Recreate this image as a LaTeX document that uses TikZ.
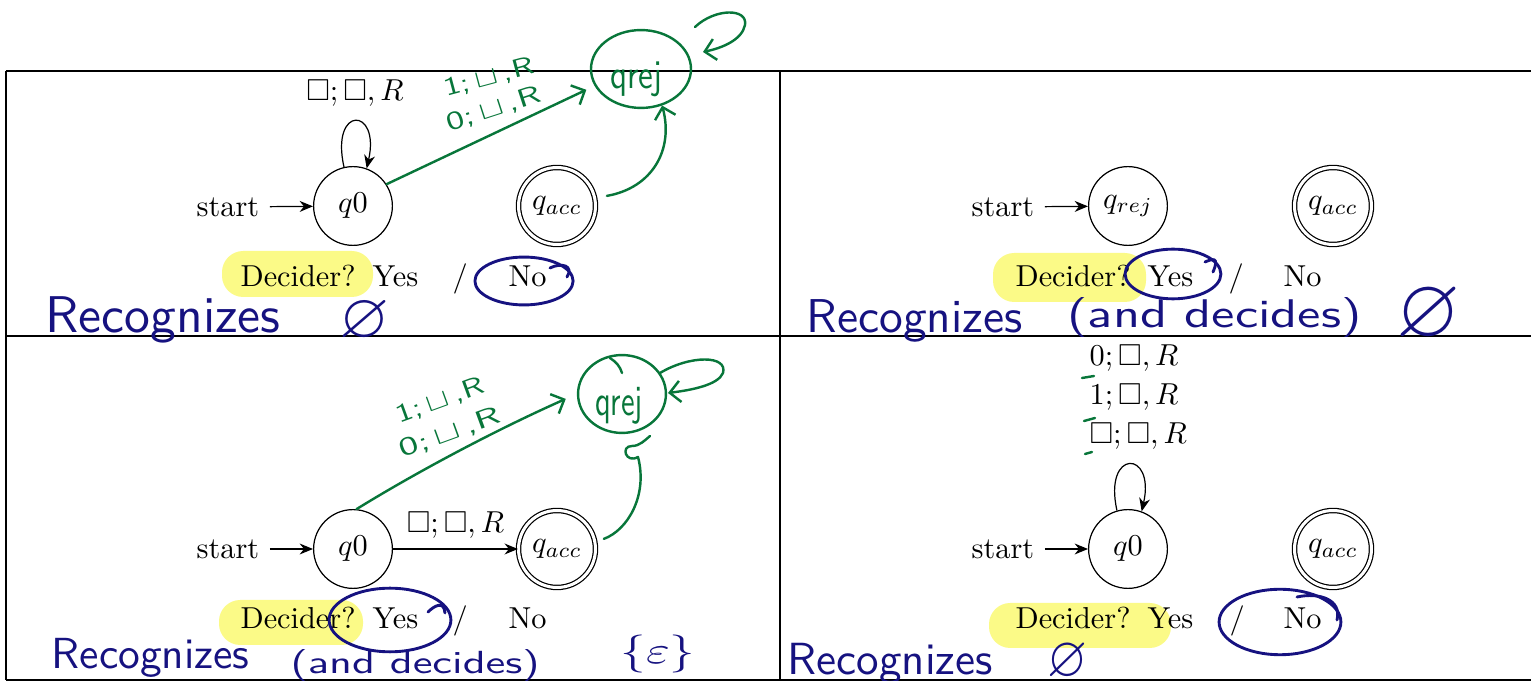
\documentclass[tikz,border=0pt]{standalone}
\usepackage{amssymb}
\usepackage{graphicx}
\usetikzlibrary{arrows.meta,shapes.geometric}
\definecolor{hgreen}{RGB}{8,118,58}
\definecolor{hnavy}{RGB}{22,18,128}
\definecolor{hyellow}{RGB}{251,250,135}
\newdimen\pxu \pxu=0.33pt
\newcommand{\hwbox}[3]{\resizebox*{#1\pxu}{#2\pxu}{\sffamily #3}}
\newcommand{\hww}[2]{\resizebox{#1\pxu}{!}{\sffamily #2}}
\begin{document}
\begin{tikzpicture}[x=0.33pt,y=-0.33pt,
  state/.style={circle,draw,minimum size=26pt,inner sep=0pt},
  acc/.style={circle,draw,double,double distance=1pt,minimum size=25.4pt,inner sep=0pt},
  tr/.style={-{Stealth[length=4.4pt,width=3.6pt]}},
  word/.style={anchor=base west,inner sep=0pt},
  hand/.style={inner sep=0pt},
  handb/.style={anchor=base west,inner sep=0pt,text=hnavy},
  gline/.style={draw=hgreen,line width=0.8pt,line cap=round,line join=round},
  gtip/.style={-{Straight Barb[length=3.5pt,width=7pt]}},
  nline/.style={draw=hnavy,line width=0.95pt,line cap=round,line join=round},
  hl/.style={fill=hyellow,rounded corners=7pt},
  lbl/.style={anchor=west,inner sep=0pt}]
\useasboundingbox (0,0) rectangle (1531,681);
% table
\draw (6,71) -- (1531,71);
\draw (6,336) -- (1531,336);
\draw (6,680) -- (1531,680);
\draw (6,71) -- (6,680);
\draw (780,71) -- (780,680);
% highlighter
\fill[hl] (222,251) rectangle (373,297);
\fill[hl] (993,253) rectangle (1146,302);
\fill[hl] (219,600) rectangle (363,645);
\fill[hl] (989,603) rectangle (1171,648);
% ---------- cell 1
\node (st1) at (228,207) {start};
\node[state] (q1) at (353,206) {$q0$};
\node[acc] (a1) at (557,206) {$q_{acc}$};
\draw[tr] (st1) -- (q1);
\draw[tr] (q1.103) .. controls +(-14,-62) and +(14,-62) .. (q1.70);
\node (l1) at (355,93) {$\square;\square,R$};
\node[word] (d1) at (240,287) {Decider?};
\node[word] (y1) at (372,287) {Yes};
\node[word] (s1) at (452,287) {/};
\node[word] (n1) at (508,287) {No};
% ---------- cell 2
\node (st2) at (1003,207) {start};
\node[state] (q2) at (1128,206) {$q_{rej}$};
\node[acc] (a2) at (1333,206) {$q_{acc}$};
\draw[tr] (st2) -- (q2);
\node[word] (d2) at (1015,287) {Decider?};
\node[word] (y2) at (1147,287) {Yes};
\node[word] (s2) at (1228,287) {/};
\node[word] (n2) at (1283,287) {No};
% ---------- cell 3
\node (st3) at (228,549) {start};
\node[state] (q3) at (353,549) {$q0$};
\node[acc] (a3) at (557,549) {$q_{acc}$};
\draw[tr] (st3) -- (q3);
\draw[tr] (q3) -- node[above] {$\square;\square,R$} (a3);
\node[word] (d3) at (240,629) {Decider?};
\node[word] (y3) at (372,629) {Yes};
\node[word] (s3) at (452,629) {/};
\node[word] (n3) at (508,629) {No};
% ---------- cell 4
\node (st4) at (1003,549) {start};
\node[state] (q4) at (1128,549) {$q0$};
\node[acc] (a4) at (1333,549) {$q_{acc}$};
\draw[tr] (st4) -- (q4);
\draw[tr] (q4.106) .. controls +(-14,-62) and +(14,-62) .. (q4.70);
\node[lbl] (m1) at (1089,358) {$0;\square,R$};
\node[lbl] (m2) at (1089,397) {$1;\square,R$};
\node[lbl] (m3) at (1089,436) {$\square;\square,R$};
\node[word] (d4) at (1015,629) {Decider?};
\node[word] (y4) at (1147,629) {Yes};
\node[word] (s4) at (1229,629) {/};
\node[word] (n4) at (1283,629) {No};
% ---------- navy annotations
\draw[nline] (524,281) ellipse [x radius=16.2pt, y radius=7.9pt];
\draw[nline] (550,268) .. controls (562,262) and (574,266) .. (567,277);
\draw[nline] (1173,274) ellipse [x radius=15.8pt, y radius=8.2pt];
\draw[nline] (1205,262) .. controls (1212,259) and (1220,256) .. (1213,272);
\draw[nline] (390,620) ellipse [x radius=20.1pt, y radius=10.5pt];
\draw[nline] (428,612) .. controls (434,606) and (444,600) .. (445,613);
\draw[nline] (1280,622) ellipse [x radius=20.1pt, y radius=10.8pt];
\draw[nline] (1297,597) .. controls (1320,592) and (1342,600) .. (1337,620);
\node[handb] (rc1) at (45,333) {\hww{235}{Recognizes}};
\node[hand,text=hnavy] (e1) at (365,322) {\hwbox{50}{42}{$\varnothing$}};
\node[handb] (rc2) at (806,333) {\hww{216}{Recognizes}};
\node[handb] (ad2) at (1067,328) {\hwbox{294}{40}{(and decides)}};
\node[hand,text=hnavy] (e2) at (1428,315) {\hwbox{64}{56}{$\varnothing$}};
\node[handb] (rc3) at (51,669) {\hww{198}{Recognizes}};
\node[handb] (ad3) at (290,674) {\hwbox{249}{32}{(and decides)}};
\node[hand,text=hnavy] (ep3) at (658,654) {\hwbox{75}{38}{$\{\varepsilon\}$}};
\node[handb] (rc4) at (787,675) {\hww{205}{Recognizes}};
\node[hand,text=hnavy] (e4) at (1067,662) {\hwbox{40}{38}{$\varnothing$}};
% ---------- green annotations, cell 1
\node[ellipse,gline,minimum width=33pt,minimum height=25.7pt,inner sep=0pt] (r1) at (641,69) {};
\node[hand,text=hgreen] (rt1) at (636,79) {\hwbox{52}{35}{qrej}};
\coordinate (r1a) at (695,27);
\coordinate (r1b) at (703,52);
\draw[gline,gtip] (r1a) .. controls (715,8) and (748,8) .. (745,25) .. controls (742,40) and (722,48) .. (r1b);
\draw[gline,gtip,shorten >=3pt] (q1.33) -- (r1.200);
\draw[gline,gtip] ([xshift=4pt]a1.15) .. controls (652,188) and (674,150) .. (r1.300);
\node[hand,text=hgreen,rotate=15] (g11) at (489,78) {\hwbox{92}{21}{1;\,$\sqcup$\,,R}};
\node[hand,text=hgreen,rotate=18] (g12) at (494,109) {\hwbox{98}{21}{0;\,$\sqcup$\,,R}};
% ---------- green annotations, cell 3
\node[ellipse,gline,minimum width=29pt,minimum height=25.7pt,inner sep=0pt] (r3) at (622,394) {};
\draw[gline] (610,358) .. controls (616,362) and (620,366) .. (622,373);
\node[hand,text=hgreen] (rt3) at (619,406) {\hwbox{48}{37}{qrej}};
\coordinate (r3a) at (660,373);
\coordinate (r3b) at (668,393);
\draw[gline,gtip] (r3a) .. controls (690,355) and (728,355) .. (723,373) .. controls (718,385) and (692,390) .. (r3b);
\draw[gline,gtip,shorten >=4pt] (q3.85) .. controls (420,470) and (500,428) .. (r3.west);
\coordinate (r3c) at (638,457);
\draw[gline] ([xshift=3pt]a3.15) .. controls (628,530) and (648,495) .. (r3c) .. controls (626,464) and (620,446) .. (632,446) .. controls (640,446) and (645,440) .. (650,436);
\node[hand,text=hgreen,rotate=20] (g31) at (440,401) {\hwbox{92}{21}{1;\,$\sqcup$\,,R}};
\node[hand,text=hgreen,rotate=20] (g32) at (450,433) {\hwbox{106}{21}{0;\,$\sqcup$\,,R}};
% ---------- green ticks, cell 4
\draw[gline] (1082,378) -- (1094,376);
\draw[gline] (1084,421) -- (1095,418);
\draw[gline] (1085,454) -- (1092,452);
\end{tikzpicture}
\end{document}
